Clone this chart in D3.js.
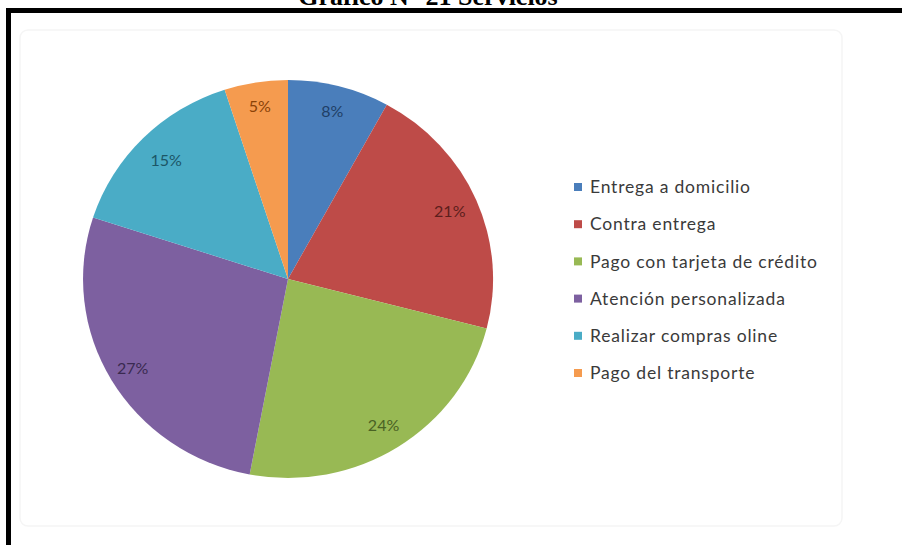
<!DOCTYPE html>
<html>
<head>
<meta charset="utf-8">
<script src="https://cdn.jsdelivr.net/npm/d3@7"></script>
<style>
  html, body { margin: 0; padding: 0; background: #fff; }
  svg { display: block; }
</style>
</head>
<body>
<svg id="chart" width="902" height="545"></svg>
<script>
// Survey results: preferred services
const categories = [
  "Entrega a domicilio",
  "Contra entrega",
  "Pago con tarjeta de crédito",
  "Atención personalizada",
  "Realizar compras oline",
  "Pago del transporte"
];
const values = [8, 21, 24, 27, 15, 5];
const sliceColors = ["#4A7EBB", "#BE4B48", "#98B954", "#7D60A0", "#4AACC6", "#F59B4F"];
const labelColors = ["#1F3F66", "#5C1E1C", "#4A6224", "#3A2A50", "#1C5666", "#8A4207"];
const title = "Gráfico N° 21 Servicios";

const svg = d3.select("#chart");

// Title (sits partly above the page edge)
svg.append("text")
  .attr("x", 428).attr("y", 5)
  .attr("text-anchor", "middle")
  .attr("font-family", "'Liberation Serif', 'Times New Roman', serif")
  .attr("font-weight", "bold")
  .attr("font-size", 26)
  .attr("fill", "#000")
  .text(title);

// Outer black frame
svg.append("rect")
  .attr("x", 8.5).attr("y", 10.5)
  .attr("width", 940).attr("height", 600)
  .attr("fill", "#fff")
  .attr("stroke", "#000")
  .attr("stroke-width", 5);

// Faint chart-area border
svg.append("rect")
  .attr("x", 20).attr("y", 30)
  .attr("width", 822).attr("height", 496)
  .attr("rx", 8)
  .attr("fill", "none")
  .attr("stroke", "#f5f5f5")
  .attr("stroke-width", 1.5);

// Pie
const cx = 288, cy = 279, rx = 205, ry = 199;
const pie = d3.pie().sort(null).value(d => d)(values);
const arc = d3.arc().innerRadius(0).outerRadius(1);

const g = svg.append("g")
  .attr("transform", `translate(${cx},${cy}) scale(${rx},${ry})`);

g.selectAll("path.slice")
  .data(pie)
  .join("path")
  .attr("class", "slice")
  .attr("d", arc)
  .attr("fill", (d, i) => sliceColors[i]);

// Percent labels
const lg = svg.append("g").attr("transform", `translate(${cx},${cy})`);
const labelRadius = [0.87, 0.86, 0.87, 0.88, 0.84, 0.88];
lg.selectAll("text")
  .data(pie)
  .join("text")
  .attr("x", (d, i) => {
    const a = (d.startAngle + d.endAngle) / 2;
    return Math.sin(a) * rx * labelRadius[i];
  })
  .attr("y", (d, i) => {
    const a = (d.startAngle + d.endAngle) / 2;
    return -Math.cos(a) * ry * labelRadius[i];
  })
  .attr("dy", "0.35em")
  .attr("text-anchor", "middle")
  .attr("font-family", "Lato, 'Open Sans', sans-serif")
  .attr("font-size", 16)
  .attr("fill", (d, i) => labelColors[i])
  .text(d => d.data + "%");

// Legend
const legendY = d3.scalePoint().domain(categories).range([187, 373]);
const lgd = svg.append("g");
const rows = lgd.selectAll("g")
  .data(categories)
  .join("g")
  .attr("transform", d => `translate(574,${legendY(d)})`);
rows.append("rect")
  .attr("x", 0).attr("y", -4)
  .attr("width", 8).attr("height", 8)
  .attr("fill", (d, i) => sliceColors[i]);
rows.append("text")
  .attr("x", 16).attr("y", 0)
  .attr("dy", "0.35em")
  .attr("font-family", "Lato, 'Open Sans', sans-serif")
  .attr("font-size", 17.5)
  .attr("letter-spacing", 0.8)
  .attr("fill", "#3a3a3a")
  .text(d => d);
</script>
</body>
</html>
